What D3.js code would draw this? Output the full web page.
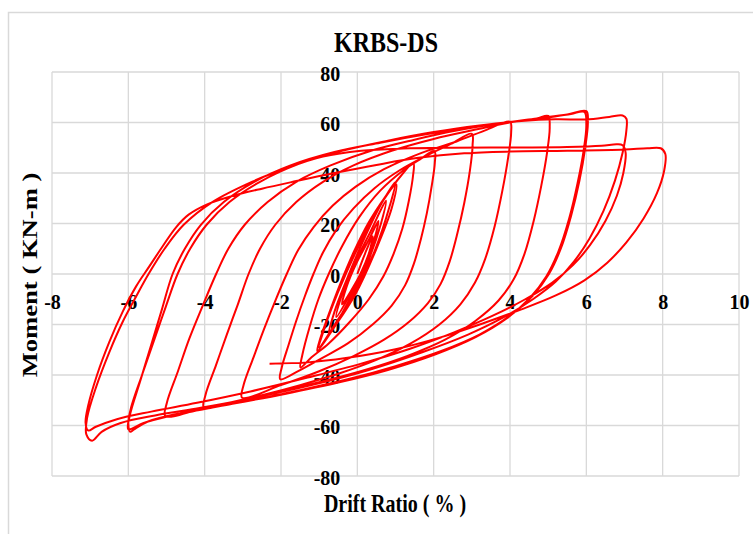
<!DOCTYPE html>
<html>
<head>
<meta charset="utf-8">
<script src="https://cdn.jsdelivr.net/npm/d3@7"></script>
<style>
  body{margin:0;background:#fff;}
  .tick text{font-family:"Liberation Serif","Times New Roman",serif;font-weight:bold;font-size:20px;fill:#000;}
  .ttl{font-family:"Liberation Serif","Times New Roman",serif;font-weight:bold;fill:#000;}
</style>
</head>
<body>
<div id="chartLoop"></div>
<script>
// tick labels
const x_ticks = [-8,-6,-4,-2,0,2,4,6,8,10];
const y_ticks = [-80,-60,-40,-20,0,20,40,60,80];

// drift ratio (%), moment (kN-m), one cycle each
const loop_0375 = [[0,0],[0.2,8],[0.4,15],[0.32,9],[0.08,0],[-0.18,-7],[-0.4,-12]];
const loop_05 = [[-0.28,-5],[0,5],[0.3,13.5],[0.55,21],[0.45,14],[0.18,3],[-0.15,-7],[-0.55,-17]];
const loop_075 = [[-0.42,-9],[-0.1,3],[0.35,17],[0.75,29],[0.62,20],[0.28,5],[-0.2,-10],[-0.75,-24]];
const loop_1a = [[-0.6,-15],[-0.3,-3],[0.15,13],[0.6,27],[1.0,36.5],[0.85,27],[0.45,9],[-0.05,-7],[-0.55,-19],[-1.0,-29]];
const loop_1b = [[-0.85,-21],[-0.5,-7],[0,10],[0.5,25],[1.02,35.5],[0.9,26],[0.5,10],[-0.05,-8],[-0.6,-21],[-1.05,-30.5]];
const loop_15 = [[-0.98,-26],[-0.75,-16],[-0.45,-4],[-0.1,8.5],[0.3,20.5],[0.75,31],[1.15,39],[1.47,44],
  [1.46,39],[1.35,29],[1.18,18],[0.95,8],[0.68,-1],[0.3,-10],[-0.2,-19],[-0.75,-27.5],[-1.2,-33],[-1.49,-37]];
const loop_2 = [[-1.44,-32],[-1.25,-21],[-1.02,-10],[-0.75,0],[-0.4,11],[0.05,22.5],[0.6,33],[1.2,41],[1.65,45.5],[2.02,48.7],
  [2.03,44],[1.95,35],[1.82,24],[1.66,13.5],[1.48,4],[1.25,-4.5],[0.9,-12.5],[0.4,-20],[-0.25,-27.5],[-0.95,-33.5],[-1.55,-38.5],[-2.02,-41.7]];
const loop_3 = [[-1.98,-37],[-1.8,-28],[-1.6,-18.5],[-1.38,-9],[-1.15,0],[-0.9,8.5],[-0.55,17.5],[-0.1,26],[0.45,34],[1.1,41],[1.8,46.8],[2.45,51.5],[3.0,55.5],
  [3.02,51],[2.95,41],[2.8,28],[2.62,16],[2.42,5],[2.18,-4],[1.85,-11.5],[1.35,-19],[0.7,-26],[-0.1,-32.5],[-1.0,-38.5],[-2.0,-44],[-3.02,-49]];
const loop_4 = [[-2.98,-44],[-2.72,-33],[-2.45,-22],[-2.16,-11],[-1.85,0],[-1.55,9.5],[-1.15,18.5],[-0.65,27],[-0.05,34.5],[0.7,41.5],[1.6,47.5],[2.6,52.5],[3.4,57.2],[4.0,60.3],
  [4.03,56],[3.95,46],[3.8,33],[3.6,19],[3.35,6],[3.08,-3.5],[2.7,-12],[2.15,-20],[1.4,-27.5],[0.5,-34],[-0.5,-39.5],[-1.5,-44],[-2.5,-48],[-3.3,-50.8],[-4.02,-53]];
const loop_5 = [[-3.98,-48],[-3.7,-36],[-3.42,-24],[-3.13,-12],[-2.85,0],[-2.55,10],[-2.15,19.5],[-1.6,28.5],[-0.9,36.5],[-0.1,43],[0.9,48.8],[2.0,53.5],[3.1,57.2],[4.1,60.3],[4.7,61.6],[5.0,62.6],
  [5.04,58],[4.97,48],[4.82,35],[4.62,21],[4.38,8],[4.1,-2],[3.7,-10.5],[3.1,-18.5],[2.3,-26],[1.3,-32.5],[0.2,-38],[-0.9,-42.5],[-2.0,-46.5],[-3.1,-50.2],[-4.1,-53.5],[-5.03,-56.2]];
const loop_6a = [[-4.99,-51],[-4.7,-38.5],[-4.4,-25.5],[-4.05,-12.5],[-3.7,0],[-3.38,10],[-2.95,19.5],[-2.35,28.5],[-1.6,36.5],[-0.7,43],[0.4,49],[1.5,53.2],[2.6,56.8],[3.7,59.6],[4.7,61.6],[5.5,63.2],[6.0,64.5],
  [6.04,60],[5.97,50],[5.82,37],[5.6,23],[5.33,10],[5.02,0],[4.6,-8.5],[4.0,-16.5],[3.2,-24],[2.2,-30.5],[1.0,-36.5],[-0.2,-41.5],[-1.5,-46],[-2.8,-50],[-4.0,-53.5],[-5.0,-56.5],[-5.6,-59],[-6.0,-61.5]];
const loop_6b = [[-5.96,-56],[-5.68,-42],[-5.4,-28],[-5.12,-14],[-4.84,0],[-4.52,10],[-4.1,19.5],[-3.5,28.5],[-2.7,36.5],[-1.75,43],[-0.6,48.3],[0.6,52],[1.8,55.3],[3.0,58.2],[4.1,60.4],[5.0,62],[5.6,63.4],[5.95,64.2],
  [6.0,59],[5.93,49],[5.77,36],[5.55,22],[5.27,9],[4.95,-1],[4.52,-9.5],[3.92,-17.5],[3.1,-25],[2.05,-31.8],[0.8,-38],[-0.5,-43],[-1.9,-47.5],[-3.3,-51.5],[-4.6,-55],[-5.5,-58.5],[-5.85,-61.5],[-5.95,-62.5]];
const loop_7a = [[-6.0,-59],[-5.93,-53],[-5.63,-39.5],[-5.32,-26],[-5.02,-13],[-4.71,0],[-4.38,10],[-3.95,19.5],[-3.35,28.5],[-2.55,36.5],[-1.55,43.5],[-0.4,48.8],[0.8,52.8],[2.0,56.2],[3.2,58.8],[4.3,60.6],[5.2,61.3],[6.0,61.2],[6.6,62.2],[6.95,62.8],
  [7.05,61.5],[7.05,57],[6.95,48],[6.75,37],[6.45,25],[6.08,14],[5.68,5],[5.2,-3],[4.6,-10],[3.85,-17],[2.9,-24],[1.7,-31],[0.3,-38],[-1.2,-44],[-2.7,-49],[-4.1,-53],[-5.3,-56],[-6.2,-59],[-6.7,-62.5],[-6.95,-66]];
const loop_7b = [[-7.1,-63.5],[-7.08,-57],[-6.85,-45],[-6.5,-31],[-6.15,-19],[-5.8,-9],[-5.47,0],[-5.05,10],[-4.55,19.5],[-3.8,28.5],[-2.75,36.6],[-1.85,42],[-0.9,46.5],[0.1,48.8],[1.2,49.7],[2.5,50],[4,50.1],[5.5,50.3],[6.4,50.8],[6.8,51.4],[6.95,51],
  [7.03,48],[6.97,40],[6.8,31],[6.5,21],[6.1,11.5],[5.65,3.5],[5.1,-3.5],[4.4,-10],[3.55,-16.5],[2.55,-23],[1.4,-29.5],[0.1,-35.5],[-1.3,-41],[-2.8,-46.5],[-4.2,-51],[-5.4,-54.5],[-6.3,-57.5],[-6.85,-60.5],[-7.05,-62]];
const loop_8 = [[-7.12,-59],[-7.05,-52],[-6.82,-40],[-6.5,-27],[-6.15,-15],[-5.8,-5],[-5.45,3],[-5.1,11],[-4.75,18.5],[-4.42,23.5],[-3.95,27.5],[-3.3,30.8],[-2.5,33.8],[-1.6,36.8],[-0.6,40],[0.5,43.2],[1.6,46],[2.8,47.8],[4,48.5],[5.5,48.8],[7,49.3],[7.6,49.8],[7.95,49.8],
  [8.07,47.5],[8.04,41],[7.85,32],[7.5,22],[7.05,12.5],[6.55,4.5],[5.95,-2.5],[5.2,-8.5],[4.3,-14],[3.3,-19.5],[2.2,-25],[1.0,-29.8],[-0.3,-33.3],[-1.3,-35],[-2.3,-35.5]];

const loops = [loop_0375,loop_05,loop_075,loop_1a,loop_1b,loop_15,loop_2,loop_3,loop_4,loop_5,loop_6a,loop_6b,loop_7a,loop_7b,loop_8];

function ready(data){
  const svg_width = 753;
  const svg_height = 534;
  const chart_margin = {top:72,right:14,bottom:58,left:52};
  const chart_width = svg_width - (chart_margin.left + chart_margin.right);
  const chart_height = svg_height - (chart_margin.top + chart_margin.bottom);

  const svg = d3.select('#chartLoop').append('svg')
    .attr('width',svg_width).attr('height',svg_height);

  // outer chart frame
  svg.append('rect').attr('x',8.5).attr('y',12.5).attr('width',780).attr('height',560)
    .attr('fill','none').attr('stroke','#d9d9d9').attr('stroke-width',1.5);

  const this_svg = svg.append('g')
    .attr('transform',`translate(${chart_margin.left},${chart_margin.top})`);

  const xScale = d3.scaleLinear([-8,10],[0,chart_width]);
  const yScale = d3.scaleLinear([-80,80],[chart_height,0]);

  // grid
  this_svg.append('g').selectAll('line').data(x_ticks).enter().append('line')
    .attr('x1',d=>xScale(d)).attr('x2',d=>xScale(d)).attr('y1',0).attr('y2',chart_height)
    .attr('stroke','#d9d9d9').attr('stroke-width',1.3);
  this_svg.append('g').selectAll('line').data(y_ticks).enter().append('line')
    .attr('x1',0).attr('x2',chart_width).attr('y1',d=>yScale(d)).attr('y2',d=>yScale(d))
    .attr('stroke','#d9d9d9').attr('stroke-width',1.3);

  // axes through zero
  const xAxis = d3.axisBottom(xScale).tickValues(x_ticks).tickSize(0).tickPadding(21).tickFormat(d=>String(d));
  const xAxisDraw = this_svg.append('g').attr('class','xaxis')
    .attr('transform',`translate(0,${yScale(0)})`).call(xAxis);
  xAxisDraw.select('.domain').remove();

  const yAxis = d3.axisLeft(yScale).tickValues(y_ticks).tickSize(0).tickPadding(17).tickFormat(d=>String(d));
  const yAxisDraw = this_svg.append('g').attr('class','yaxis')
    .attr('transform',`translate(${xScale(0)},0)`).call(yAxis);
  yAxisDraw.select('.domain').remove();
  yAxisDraw.selectAll('text').attr('dy','0.42em');

  // hysteresis curve
  const line = d3.line().x(d=>xScale(d[0])).y(d=>yScale(d[1])).curve(d3.curveCatmullRom.alpha(0.5));
  this_svg.append('path').datum(d3.merge(data))
    .attr('d',line).attr('fill','none').attr('stroke','#ff0000').attr('stroke-width',2)
    .attr('stroke-linejoin','round');

  // titles
  svg.append('text').attr('class','ttl').attr('text-anchor','middle').style('font-size','24px')
    .attr('transform','translate(386,52) scale(1,1.2)').text('KRBS-DS');
  svg.append('text').attr('class','ttl').attr('text-anchor','middle').style('font-size','20px')
    .attr('transform','translate(395,512) scale(1,1.28)').text('Drift Ratio ( % )');
  svg.append('text').attr('class','ttl').attr('text-anchor','middle').style('font-size','22px')
    .attr('transform','translate(37,275) rotate(-90) scale(1.21,1)').text('Moment ( KN-m )');
}

ready(loops);
</script>
</body>
</html>
